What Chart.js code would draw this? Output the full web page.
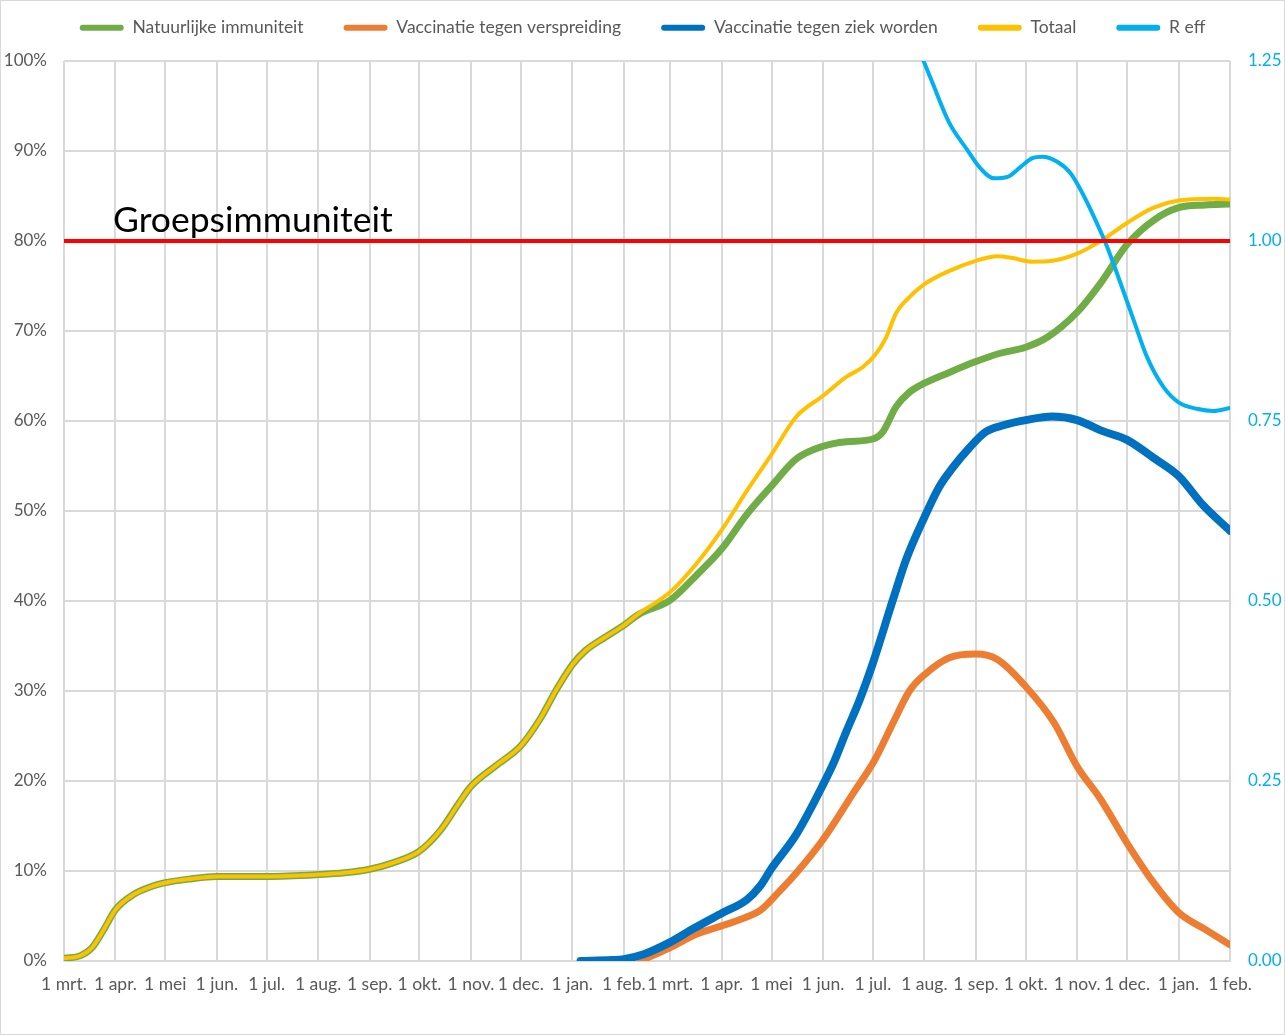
<!DOCTYPE html>
<html><head><meta charset="utf-8">
<script src="https://cdn.jsdelivr.net/npm/chart.js@4.4.1/dist/chart.umd.min.js"></script>
<style>html,body{margin:0;padding:0;background:#fff;}canvas{display:block;}</style>
</head><body>
<canvas id="c" width="1285" height="1035"></canvas>
<script>
// x values are days since 1 mrt. 2020
const monthLabels = ['1 mrt.','1 apr.','1 mei','1 jun.','1 jul.','1 aug.','1 sep.','1 okt.','1 nov.','1 dec.','1 jan.','1 feb.',
                     '1 mrt.','1 apr.','1 mei','1 jun.','1 jul.','1 aug.','1 sep.','1 okt.','1 nov.','1 dec.','1 jan.','1 feb.'];
const monthDays = [0,31,61,92,122,153,184,214,245,275,306,337,365,396,426,457,487,518,549,579,610,640,671,702];

const natDays = [0,10,17,24,31,42,53,61,75,92,122,153,169,184,198,214,227,238,245,260,275,287,296,306,314,326,337,346,365,381,396,411,426,441,457,471,487,493,501,509,518,533,549,563,579,592,610,624,640,656,671,687,702];
const natVals = [0.3,0.6,1.5,3.5,5.7,7.4,8.3,8.7,9.1,9.4,9.4,9.6,9.8,10.2,10.9,12.2,14.6,17.6,19.4,21.7,23.9,27.0,30.0,32.9,34.5,36.0,37.3,38.5,40.1,42.9,45.8,49.6,52.8,55.8,57.2,57.7,58.0,58.8,61.6,63.2,64.2,65.4,66.6,67.5,68.2,69.3,72.1,75.3,79.6,82.3,83.7,84.0,84.1];

const verDays = [347,365,381,396,411,419,430,441,457,475,488,499,509,518,533,549,562,579,596,610,624,640,656,671,688,702];
const verVals = [0,1.5,3.0,3.9,4.9,5.6,7.6,9.8,13.5,18.6,22.3,26.4,30.0,31.8,33.7,34.1,33.5,30.5,26.5,21.6,18.0,13.1,8.7,5.4,3.4,1.8];

const ziekDays = [311,330,337,349,365,379,396,411,419,426,441,457,464,471,479,487,499,507,518,527,535,545,555,565,579,595,610,625,640,656,671,686,702];
const ziekVals = [0,0.1,0.2,0.75,2.1,3.6,5.3,6.8,8.3,10.3,14.1,19.6,22.3,25.5,29.0,33.1,40.1,44.6,49.3,52.7,54.8,57.0,58.8,59.5,60.1,60.5,60.1,58.9,57.9,55.9,53.9,50.6,47.8];

const totDays = [0,10,17,24,31,42,53,61,75,92,122,153,169,184,198,214,227,238,245,260,275,287,296,306,314,326,337,346,365,381,396,411,426,441,457,471,481,489,495,501,507,518,532,549,562,571,583,595,610,625,640,656,671,692,702];
const totVals = [0.3,0.6,1.5,3.5,5.7,7.4,8.3,8.7,9.1,9.4,9.4,9.6,9.8,10.2,10.9,12.2,14.6,17.6,19.4,21.7,23.9,27.0,30.0,32.9,34.5,36.0,37.3,38.6,41.0,44.2,47.9,52.2,56.3,60.5,62.8,64.9,66.0,67.5,69.3,72.0,73.4,75.2,76.6,77.8,78.3,78.1,77.7,77.8,78.6,80.1,82.0,83.7,84.5,84.7,84.6];

const reffDays = [514,523,533,544,551,560,568,576,583,589,598,606,613,621,628,636,644,652,662,671,682,692,702];
const reffVals = [1.27,1.219,1.164,1.126,1.103,1.087,1.089,1.103,1.115,1.117,1.110,1.094,1.067,1.029,0.992,0.942,0.890,0.839,0.797,0.776,0.767,0.764,0.768];

const refLevel = 80;
const refLabel = 'Groepsimmuniteit';

const pts = (xs, ys) => xs.map((x, i) => ({x, y: ys[i]}));
const FONT = 'Lato';
const GRAY = '#595959';

const lineDs = (label, xs, ys, color, width, axis) => ({
  label, data: pts(xs, ys), borderColor: color, backgroundColor: color,
  borderWidth: width, pointRadius: 0, pointHoverRadius: 0, cubicInterpolationMode: 'monotone',
  borderCapStyle: 'round', borderJoinStyle: 'round', fill: false, yAxisID: axis || 'y'
});

const datasets = [
  Object.assign(lineDs('', [0, 702], [refLevel, refLevel], '#FF0000', 4), {hideInLegend: true, borderCapStyle: 'butt'}),
  lineDs('R eff', reffDays, reffVals, '#00B0F0', 4, 'y1'),
  lineDs('Totaal', totDays, totVals, '#FFC000', 4),
  lineDs('Vaccinatie tegen ziek worden', ziekDays, ziekVals, '#0070C0', 8),
  lineDs('Vaccinatie tegen verspreiding', verDays, verVals, '#ED7D31', 7),
  lineDs('Natuurlijke immuniteit', natDays, natVals, '#70AD47', 7)
];

const frame = {
  id: 'frame',
  beforeInit(chart) {
    const lg = chart.legend;
    if (lg) {
      const fit = lg.fit;
      lg.fit = function() { fit.apply(this, arguments); this.height = 61; };
      const draw = lg.draw;
      lg.draw = function() { const c = this.ctx; c.save(); c.translate(0, -21); draw.apply(this, arguments); c.restore(); };
    }
  },
  beforeDraw(chart) {
    const c = chart.ctx;
    c.save();
    c.fillStyle = '#fff'; c.fillRect(0, 0, chart.width, chart.height);
    c.strokeStyle = '#d9d9d9'; c.lineWidth = 1;
    c.strokeRect(0.5, 0.5, chart.width - 1, chart.height - 1);
    c.restore();
  },
  afterDatasetsDraw(chart) {
    const c = chart.ctx, y = chart.scales.y.getPixelForValue(refLevel);
    c.save();
    c.fillStyle = '#000'; c.font = '35.5px ' + FONT; c.textBaseline = 'alphabetic';
    c.fillText(refLabel, chart.chartArea.left + 49, y - 9);
    c.restore();
  }
};

new Chart(document.getElementById('c'), {
  type: 'line',
  data: { datasets },
  options: {
    responsive: false, animation: false, devicePixelRatio: 1,
    layout: { padding: 0 },
    plugins: {
      tooltip: { enabled: false },
      legend: {
        reverse: true,
        labels: {
          boxWidth: 44, boxHeight: 6, useBorderRadius: true, borderRadius: 3, padding: 40,
          color: GRAY, font: { family: FONT, size: 17.5 },
          filter: (item, data) => !data.datasets[item.datasetIndex].hideInLegend,
          generateLabels(chart) {
            const items = Chart.defaults.plugins.legend.labels.generateLabels(chart);
            items.forEach(it => { it.fillStyle = it.strokeStyle; it.lineWidth = 0; });
            return items;
          }
        }
      }
    },
    scales: {
      x: {
        type: 'linear', min: 0, max: 702,
        afterBuildTicks: s => { s.ticks = monthDays.map(v => ({ value: v })); },
        afterFit: s => { s.height = 74; },
        ticks: {
          autoSkip: false, maxRotation: 0, minRotation: 0, padding: 13,
          color: GRAY, font: { family: FONT, size: 17.5 },
          callback: v => { const i = monthDays.indexOf(v); return i >= 0 ? monthLabels[i] : ''; }
        },
        grid: { color: '#d9d9d9', lineWidth: 2, drawTicks: false },
        border: { color: '#d9d9d9', width: 2 }
      },
      y: {
        position: 'left', min: 0, max: 100,
        afterFit: s => { s.width = 64; },
        ticks: { stepSize: 10, padding: 17, color: GRAY, font: { family: FONT, size: 17 }, callback: v => v + '%' },
        grid: { color: '#d9d9d9', lineWidth: 2, drawTicks: false },
        border: { display: false }
      },
      y1: {
        position: 'right', min: 0, max: 1.25,
        afterFit: s => { s.width = 55; },
        ticks: { stepSize: 0.25, padding: 18, color: '#00B0F0', font: { family: FONT, size: 17 }, callback: v => v.toFixed(2) },
        grid: { display: false, drawTicks: false },
        border: { display: false }
      }
    }
  },
  plugins: [frame]
});
</script>
</body></html>
